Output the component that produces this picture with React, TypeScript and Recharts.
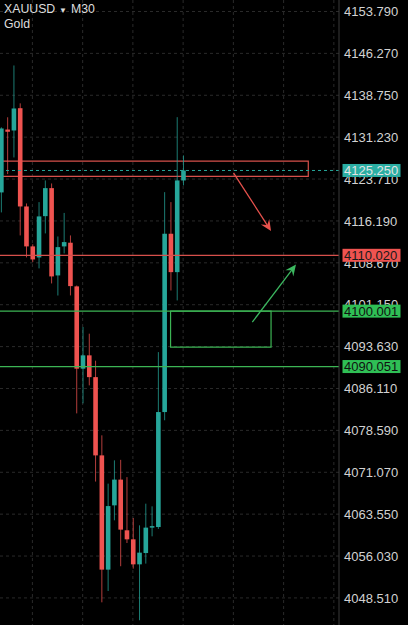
import React from "react";
import {
  ComposedChart,
  Bar,
  XAxis,
  YAxis,
  CartesianGrid,
  ReferenceLine,
  ReferenceArea,
} from "recharts";

// ---- data ----
const candleIndex = [
  0, 1, 2, 3, 4, 5, 6, 7, 8, 9, 10, 11, 12, 13, 14, 15, 16, 17, 18, 19, 20, 21,
  22, 23, 24, 25, 26, 27, 28, 29,
];
const opens = [
  4121.31, 4132.6, 4132.43, 4136.43, 4118.79, 4111.62, 4109.64, 4117.05,
  4122.08, 4106.41, 4111.62, 4112.28, 4104.44, 4089.67, 4092.06, 4088.15,
  4074.1, 4053.59, 4065.13, 4069.75, 4060.65, 4059.03, 4054.54, 4056.57,
  4061.13, 4061.24, 4081.88, 4113.89, 4107.0, 4123.46,
];
const closes = [
  4132.79, 4132.2, 4136.38, 4118.79, 4111.62, 4109.28, 4117.0, 4122.08,
  4106.23, 4111.49, 4112.39, 4104.49, 4089.67, 4092.06, 4088.15, 4074.1,
  4053.59, 4065.0, 4069.75, 4060.77, 4059.03, 4054.54, 4056.64, 4061.13,
  4061.4, 4081.88, 4113.89, 4107.0, 4123.46, 4125.25,
];
const highs = [
  4133.0, 4134.8, 4144.1, 4137.3, 4119.33, 4112.0, 4119.57, 4123.46, 4122.92,
  4113.4, 4117.63, 4113.59, 4104.6, 4097.16, 4095.95, 4091.1, 4077.7, 4069.03,
  4073.21, 4073.3, 4070.2, 4062.85, 4061.54, 4065.43, 4064.95, 4092.64,
  4121.36, 4119.57, 4134.82, 4127.95,
];
const lows = [
  4117.72, 4124.6, 4127.59, 4113.59, 4109.64, 4108.8, 4107.67, 4113.95,
  4104.97, 4102.8, 4110.36, 4102.82, 4081.64, 4083.44, 4086.67, 4069.4,
  4047.72, 4049.75, 4062.44, 4054.2, 4058.37, 4053.77, 4044.5, 4054.67,
  4059.57, 4060.9, 4080.4, 4103.7, 4101.92, 4122.57,
];

const priceTicks = [
  4153.79, 4146.27, 4138.75, 4131.23, 4123.71, 4116.19, 4108.67, 4101.15,
  4093.63, 4086.11, 4078.59, 4071.07, 4063.55, 4056.03, 4048.51,
];
const gridColumns = [5, 13, 21, 29, 37, 45, 53];

const currentPrice = 4125.25;
const resistanceLevel = 4110.02;
const supportLevels = [4100.001, 4090.051];

// annotation boxes (index / price)
const redBox = { x1: -2, x2: 48.93, y1: 4124.18, y2: 4126.92 };
const greenBox = { x1: 27, x2: 43, y1: 4093.54, y2: 4100.001 };
const redArrow = [
  { x: 37.02, y: 4124.81 },
  { x: 43.0, y: 4114.4 },
];
const greenArrow = [
  { x: 40.02, y: 4098.03 },
  { x: 46.97, y: 4108.35 },
];

const data = candleIndex.map((i, k) => ({
  i,
  open: opens[k],
  close: closes[k],
  high: highs[k],
  low: lows[k],
  range: [lows[k], highs[k]],
}));

// ---- styles ----
const UP = "#26a69a";
const DOWN = "#ef5350";
const RED_LINE = "#d6504b";
const GREEN_LINE = "#3cb454";
const FONT = "'Liberation Sans', Arial, sans-serif";

const tagStyles: Record<string, { bg: string; fg: string }> = {
  [String(currentPrice)]: { bg: "#2aaea3", fg: "#e4e4e4" },
  [String(resistanceLevel)]: { bg: "#ef5350", fg: "#1a1a1a" },
  [String(supportLevels[0])]: { bg: "#2fbf55", fg: "#111111" },
  [String(supportLevels[1])]: { bg: "#2fbf55", fg: "#111111" },
};
// price labels first, then the coloured tags so they paint on top
const axisTicks = [
  ...priceTicks,
  currentPrice,
  resistanceLevel,
  ...supportLevels,
];

const Candle = (props: any) => {
  const { x, y, width, height, payload } = props;
  if (payload == null || height == null) return null;
  const { open, close, high, low } = payload;
  const cx = x + width / 2;
  const pxPer = high - low > 0 ? height / (high - low) : 0;
  const toY = (p: number) => y + (high - p) * pxPer;
  const up = close >= open;
  const color = up ? UP : DOWN;
  const top = toY(Math.max(open, close));
  const bot = toY(Math.min(open, close));
  const bodyH = Math.max(bot - top, 1.2);
  const bw = 4.6;
  return (
    <g>
      <line x1={cx} x2={cx} y1={y} y2={y + height} stroke={color} strokeWidth={1} opacity={0.75} />
      <rect x={cx - bw / 2} y={top} width={bw} height={bodyH} fill={color} />
    </g>
  );
};

const PriceTick = (props: any) => {
  const { x, y, payload } = props;
  const v = Number(payload.value);
  const tag = tagStyles[String(v)];
  if (tag) {
    const x0 = x - 4.5;
    return (
      <g>
        <rect x={x0} y={y - 6.5} width={58} height={13} fill={tag.bg} />
        <text
          x={x0 + 1.5}
          y={y}
          dy="0.36em"
          fill={tag.fg}
          fontSize={13}
          fontFamily={FONT}
        >
          {v.toFixed(3)}
        </text>
      </g>
    );
  }
  return (
    <text
      x={x - 3}
      y={y}
      dy="0.36em"
      fill="#d2d2d2"
      fontSize={13}
      fontFamily={FONT}
      textAnchor="start"
    >
      {v.toFixed(3)}
    </text>
  );
};

const makeArrow = (color: string) => (props: any) => {
  const { x1, y1, x2, y2 } = props;
  if ([x1, y1, x2, y2].some((v) => v == null || isNaN(v))) return null;
  const dx = x2 - x1;
  const dy = y2 - y1;
  const len = Math.sqrt(dx * dx + dy * dy) || 1;
  const ux = dx / len;
  const uy = dy / len;
  const px = -uy;
  const py = ux;
  const L = 11;
  const W = 5;
  const notch = 7;
  const bx = x2 - ux * L;
  const by = y2 - uy * L;
  const nx = x2 - ux * notch;
  const ny = y2 - uy * notch;
  const pts = [
    `${x2},${y2}`,
    `${bx + px * W},${by + py * W}`,
    `${nx},${ny}`,
    `${bx - px * W},${by - py * W}`,
  ].join(" ");
  return (
    <g>
      <line x1={x1} y1={y1} x2={nx} y2={ny} stroke={color} strokeWidth={1.3} />
      <polygon points={pts} fill={color} />
    </g>
  );
};

export default function App() {
  return (
    <div
      style={{
        position: "absolute",
        left: 0,
        top: 0,
        width: 408,
        height: 625,
        background: "#000",
        overflow: "hidden",
      }}
    >
      <ComposedChart
        width={408}
        height={625}
        data={data}
        margin={{ top: 0, right: 0, bottom: 0, left: 0 }}
      >
        <CartesianGrid
          stroke="#2a2a2a"
          strokeDasharray="3 3"
          horizontalValues={priceTicks}
          verticalValues={gridColumns}
        />
        <XAxis
          dataKey="i"
          type="number"
          domain={[-0.16, 53.82]}
          allowDataOverflow
          hide
        />
        <YAxis
          orientation="right"
          width={69}
          domain={[4043.65, 4155.855]}
          allowDataOverflow
          ticks={axisTicks}
          interval={0}
          tick={<PriceTick />}
          tickLine={false}
          axisLine={{ stroke: "#3a3a3a" }}
        />
        <ReferenceArea
          x1={redBox.x1}
          x2={redBox.x2}
          y1={redBox.y1}
          y2={redBox.y2}
          fill="none"
          fillOpacity={0}
          stroke={RED_LINE}
          strokeWidth={1.2}
          ifOverflow="hidden"
        />
        <ReferenceArea
          x1={greenBox.x1}
          x2={greenBox.x2}
          y1={greenBox.y1}
          y2={greenBox.y2}
          fill="none"
          fillOpacity={0}
          stroke={GREEN_LINE}
          strokeWidth={1.2}
        />
        <ReferenceLine segment={redArrow} shape={makeArrow("#e8524d")} />
        <ReferenceLine segment={greenArrow} shape={makeArrow("#3cb860")} />
        <ReferenceLine y={resistanceLevel} stroke={RED_LINE} strokeWidth={1.2} />
        {supportLevels.map((v) => (
          <ReferenceLine key={v} y={v} stroke={GREEN_LINE} strokeWidth={1.2} />
        ))}
        <ReferenceLine
          y={currentPrice}
          stroke={UP}
          strokeDasharray="3 3"
          strokeWidth={1}
        />
        <Bar
          dataKey="range"
          barSize={5}
          shape={<Candle />}
          isAnimationActive={false}
        />
      </ComposedChart>
      <svg
        width={140}
        height={36}
        style={{ position: "absolute", left: 0, top: 0 }}
      >
        <text x={4} y={12.7} fill="#dddddd" fontSize={12.3} fontFamily={FONT}>
          XAUUSD
        </text>
        <text x={59} y={12.5} fill="#dddddd" fontSize={8} fontFamily={FONT}>
          ▼
        </text>
        <text x={71} y={12.7} fill="#dddddd" fontSize={12.3} fontFamily={FONT}>
          M30
        </text>
        <text x={4} y={28.3} fill="#dddddd" fontSize={12.3} fontFamily={FONT}>
          Gold
        </text>
      </svg>
    </div>
  );
}
